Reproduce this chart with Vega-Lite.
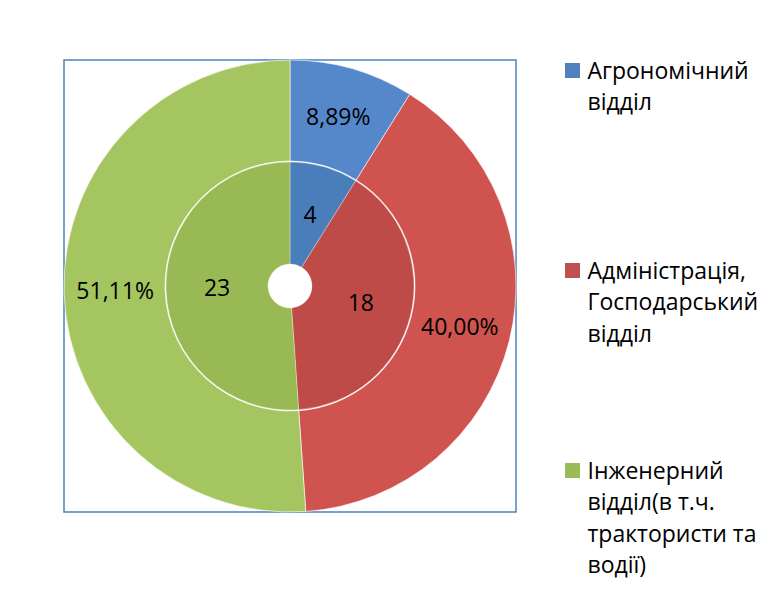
{
  "$schema": "https://vega.github.io/schema/vega-lite/v6.json",
  "padding": {"left": 61, "top": 57, "right": 0, "bottom": 30},
  "background": "white",
  "config": {"font": "Open Sans", "view": {"stroke": null}},
  "datasets": {
    "depts": [
      {"dept": "Агрономічний відділ", "label": "Агрономічний\nвідділ", "count": 4, "pct": "8,89%"},
      {"dept": "Адміністрація, Господарський відділ", "label": "Адміністрація,\nГосподарський\nвідділ", "count": 18, "pct": "40,00%"},
      {"dept": "Інженерний відділ(в т.ч. трактористи та водії)", "label": "Інженерний\nвідділ(в т.ч.\nтрактористи та\nводії)", "count": 23, "pct": "51,11%"}
    ]
  },
  "spacing": 46,
  "hconcat": [
    {
      "width": 452,
      "height": 452,
      "view": {"stroke": "#4F81BD", "strokeWidth": 1.5},
      "data": {"name": "depts"},
      "encoding": {
        "theta": {"field": "count", "type": "quantitative", "stack": true},
        "order": {"field": "count", "type": "quantitative", "sort": "ascending"}
      },
      "layer": [
        {
          "mark": {"type": "arc", "innerRadius": 125, "outerRadius": 226, "stroke": "#ffffff", "strokeWidth": 1, "strokeOpacity": 0.6},
          "encoding": {
            "color": {"field": "dept", "type": "nominal", "legend": null,
              "scale": {"domain": ["Агрономічний відділ", "Адміністрація, Господарський відділ", "Інженерний відділ(в т.ч. трактористи та водії)"],
                        "range": ["#5588CB", "#CF534F", "#A4C55F"]}}
          }
        },
        {
          "mark": {"type": "arc", "innerRadius": 22, "outerRadius": 124, "stroke": "#ffffff", "strokeWidth": 0.8, "strokeOpacity": 0.4},
          "encoding": {
            "color": {"field": "dept", "type": "nominal", "legend": null,
              "scale": {"domain": ["Агрономічний відділ", "Адміністрація, Господарський відділ", "Інженерний відділ(в т.ч. трактористи та водії)"],
                        "range": ["#4A7EBB", "#BE4B48", "#98B954"]}}
          }
        },
        {
          "mark": {"type": "text", "radius": 175, "fontSize": 23, "color": "#000000", "align": "center", "baseline": "middle"},
          "encoding": {"text": {"field": "pct", "type": "nominal"}}
        },
        {
          "mark": {"type": "text", "radius": 73, "fontSize": 23, "color": "#000000", "align": "center", "baseline": "middle"},
          "encoding": {"text": {"field": "count", "type": "quantitative"}}
        }
      ],
      "resolve": {"scale": {"color": "independent"}}
    },
    {
      "width": 15,
      "height": 421,
      "data": {"name": "depts"},
      "encoding": {
        "y": {"field": "dept", "type": "nominal", "sort": null, "axis": null,
              "scale": {"type": "point", "padding": 0.0525}}
      },
      "layer": [
        {
          "mark": {"type": "point", "shape": "square", "filled": true, "size": 225, "opacity": 1},
          "encoding": {
            "color": {"field": "dept", "type": "nominal", "legend": null,
              "scale": {"domain": ["Агрономічний відділ", "Адміністрація, Господарський відділ", "Інженерний відділ(в т.ч. трактористи та водії)"],
                        "range": ["#4F81BD", "#C0504D", "#9BBB59"]}}
          }
        },
        {
          "mark": {"type": "text", "align": "left", "baseline": "alphabetic", "dx": 15, "dy": 8, "fontSize": 23, "lineBreak": "\n", "lineHeight": 31.5, "color": "#000000"},
          "encoding": {"text": {"field": "label", "type": "nominal"}}
        }
      ]
    }
  ],
  "resolve": {"scale": {"color": "independent", "y": "independent"}}
}
